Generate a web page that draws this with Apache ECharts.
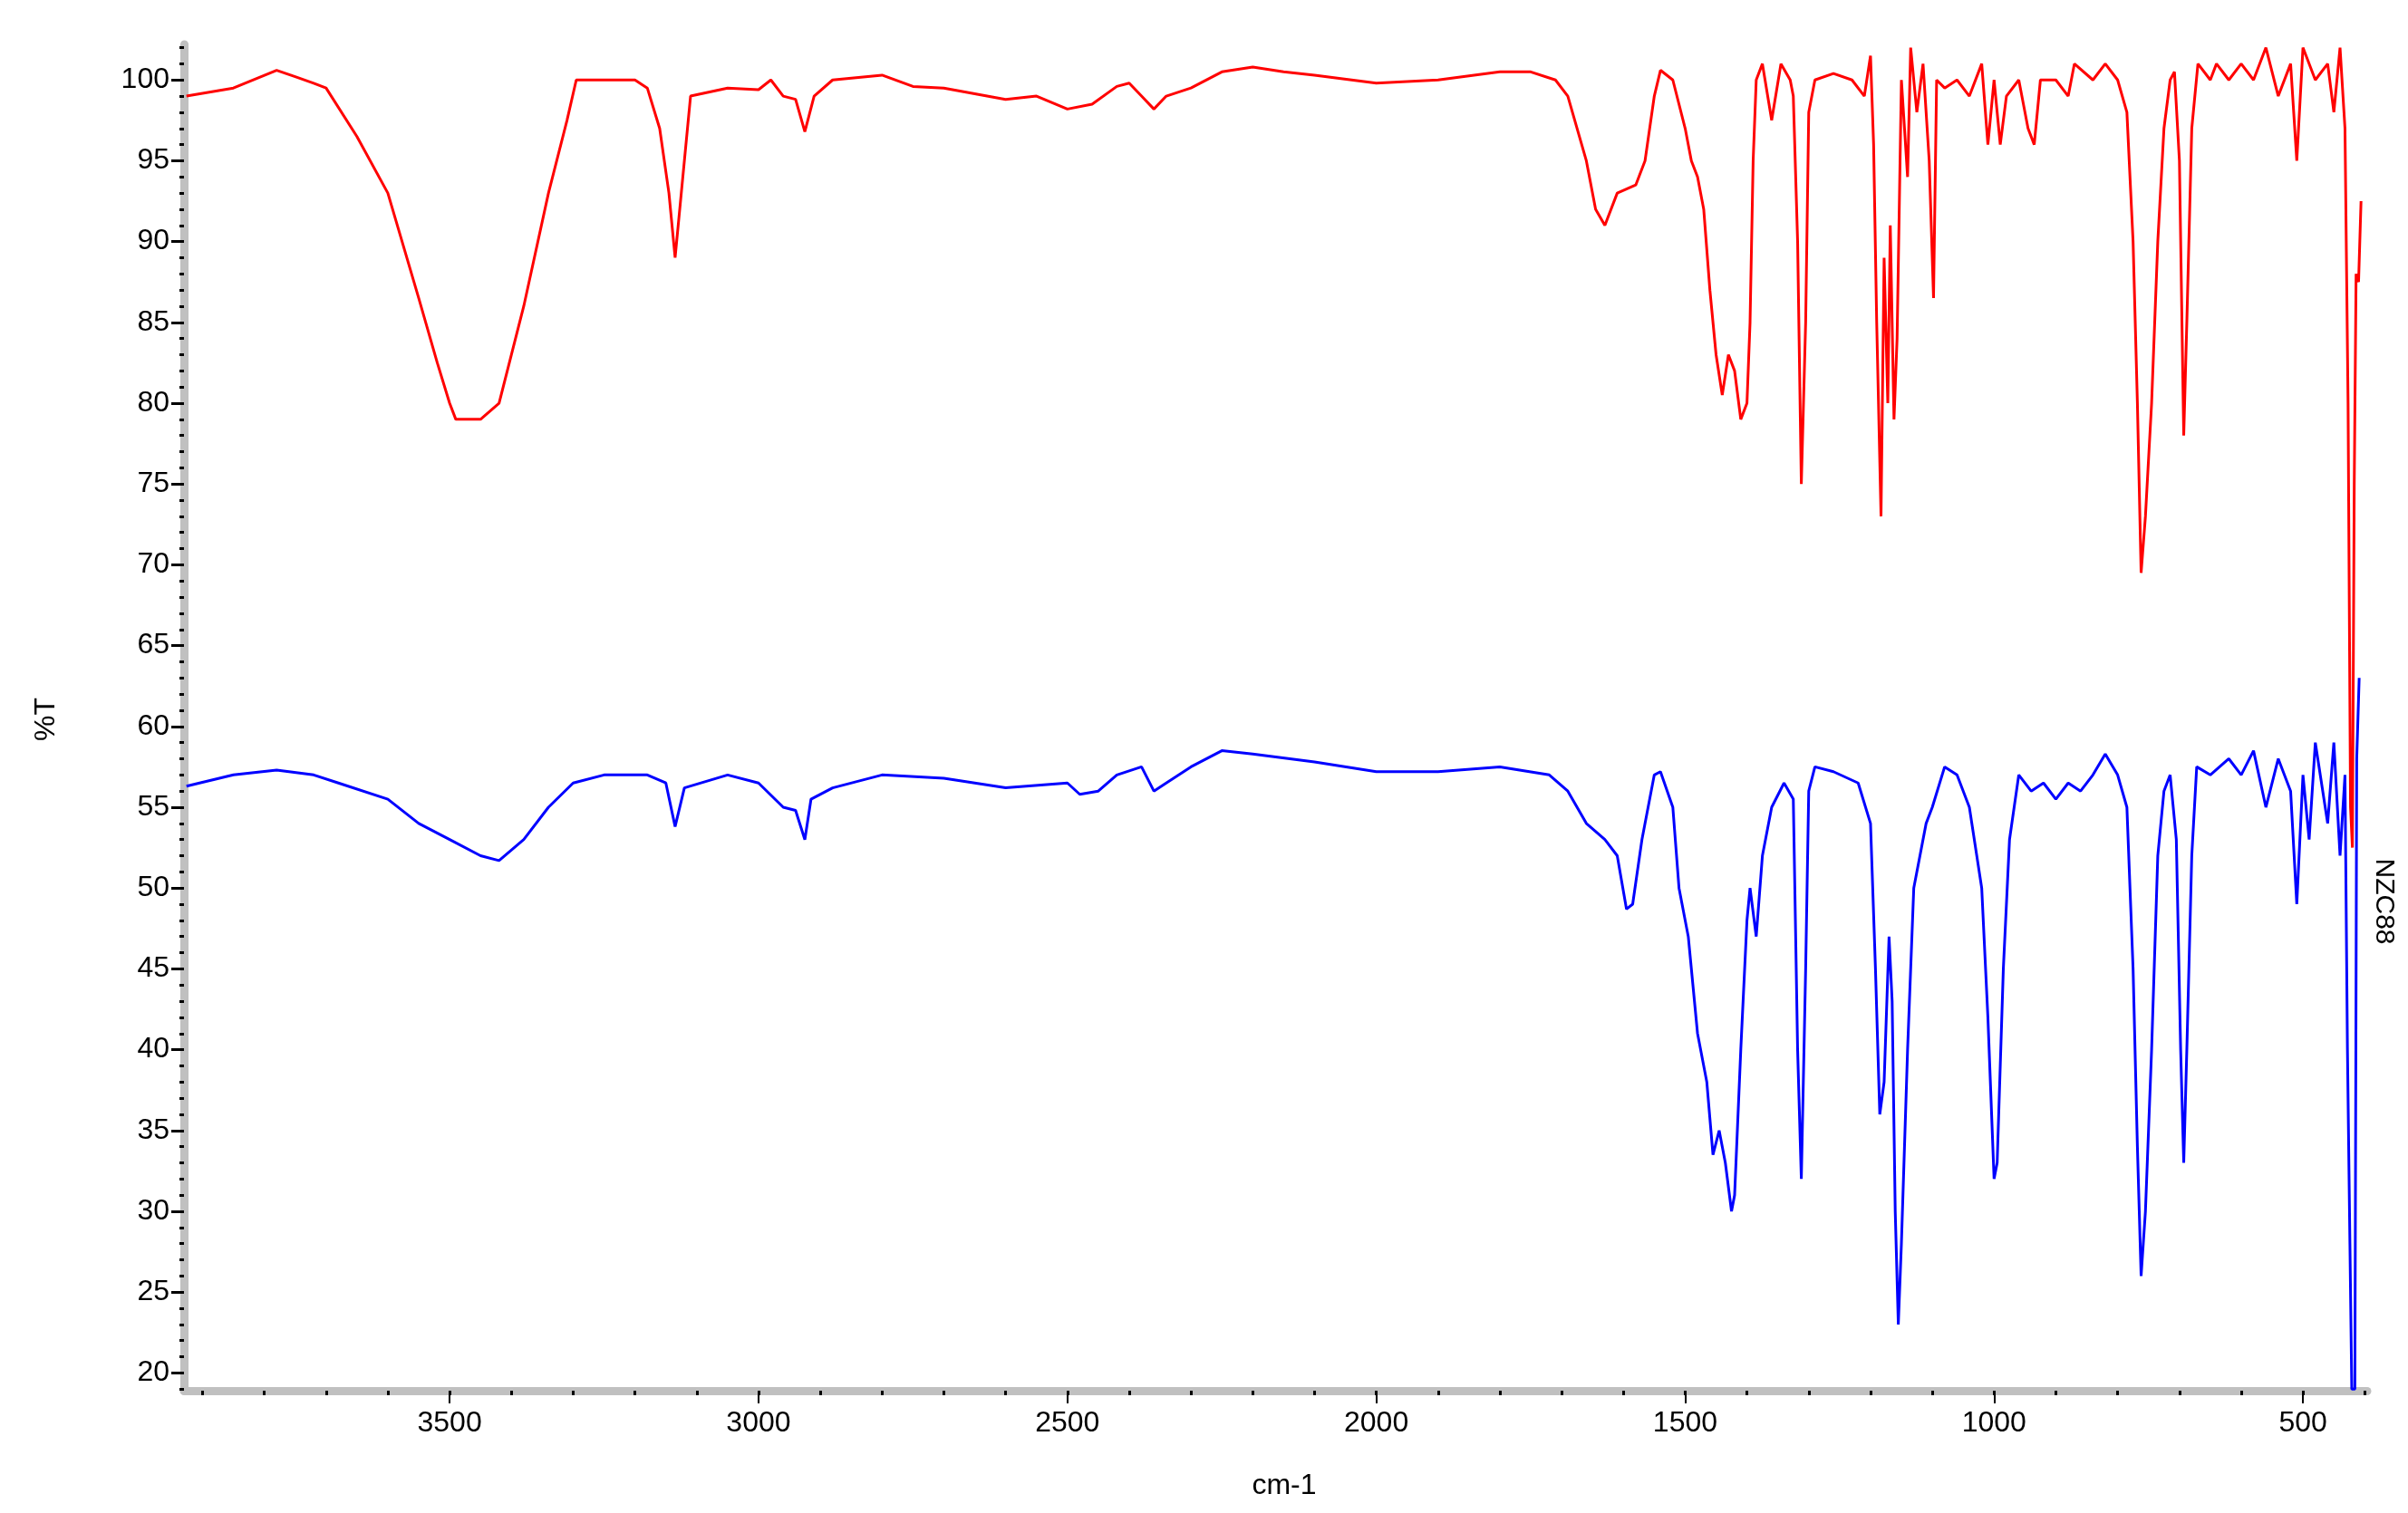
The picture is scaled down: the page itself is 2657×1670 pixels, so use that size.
<!DOCTYPE html>
<html><head><meta charset="utf-8">
<script src="https://cdn.jsdelivr.net/npm/echarts@6/dist/echarts.min.js"></script>
<style>html,body{margin:0;padding:0;background:#fff}#c{width:2657px;height:1670px}</style>
</head><body><div id="c"></div>
<script>
const redSeries = [[3926,99],[3850,99.5],[3780,100.6],[3750,100.2],[3720,99.8],[3700,99.5],[3650,96.5],[3600,93],[3550,86.5],[3520,82.5],[3500,80],[3490,79],[3450,79],[3420,80],[3380,86],[3340,93],[3310,97.5],[3295,100],[3200,100],[3180,99.5],[3160,97],[3145,93],[3135,89],[3125,93],[3110,99],[3050,99.5],[3000,99.4],[2980,100],[2960,99],[2940,98.8],[2925,96.8],[2910,99],[2880,100],[2800,100.3],[2750,99.6],[2700,99.5],[2600,98.8],[2550,99],[2500,98.2],[2460,98.5],[2420,99.6],[2400,99.8],[2380,99],[2360,98.2],[2340,99],[2300,99.5],[2250,100.5],[2200,100.8],[2150,100.5],[2100,100.3],[2000,99.8],[1900,100],[1800,100.5],[1750,100.5],[1710,100],[1690,99],[1660,95],[1645,92],[1630,91],[1610,93],[1580,93.5],[1565,95],[1550,99],[1540,100.6],[1520,100],[1500,97],[1490,95],[1480,94],[1470,92],[1460,87],[1450,83],[1440,80.5],[1430,83],[1420,82],[1410,79],[1400,80],[1395,85],[1390,95],[1385,100],[1375,101],[1360,97.5],[1345,101],[1330,100],[1325,99],[1318,90],[1312,75],[1305,85],[1300,98],[1290,100],[1260,100.4],[1230,100],[1210,99],[1200,101.5],[1195,96],[1190,85],[1183,73],[1178,89],[1172,80],[1168,91],[1162,79],[1157,84],[1150,100],[1140,94],[1135,102],[1125,98],[1115,101],[1105,95],[1098,86.5],[1093,100],[1080,99.5],[1060,100],[1040,99],[1020,101],[1010,96],[1000,100],[990,96],[980,99],[960,100],[945,97],[935,96],[925,100],[900,100],[880,99],[870,101],[840,100],[820,101],[800,100],[785,98],[775,90],[768,80],[762,69.5],[755,73],[745,80],[735,90],[725,97],[715,100],[708,100.5],[700,95],[693,78],[688,85],[680,97],[670,101],[650,100],[640,101],[620,100],[600,101],[580,100],[560,102],[540,99],[520,101],[510,95],[500,102],[480,100],[460,101],[450,98],[440,102],[432,97],[427,80],[423,55],[420,52.5],[417,75],[414,88],[410,87.5],[406,92.5]];
const blueSeries = [[3926,56.3],[3850,57],[3780,57.3],[3720,57],[3680,56.5],[3600,55.5],[3550,54],[3500,53],[3450,52],[3420,51.7],[3380,53],[3340,55],[3300,56.5],[3250,57],[3180,57],[3150,56.5],[3135,53.8],[3120,56.2],[3050,57],[3000,56.5],[2960,55],[2940,54.8],[2925,53],[2915,55.5],[2880,56.2],[2800,57],[2700,56.8],[2600,56.2],[2500,56.5],[2480,55.8],[2450,56],[2420,57],[2380,57.5],[2360,56],[2340,56.5],[2300,57.5],[2250,58.5],[2200,58.3],[2100,57.8],[2000,57.2],[1900,57.2],[1800,57.5],[1720,57],[1690,56],[1660,54],[1630,53],[1610,52],[1595,48.7],[1585,49],[1570,53],[1550,57],[1540,57.2],[1520,55],[1510,50],[1495,47],[1480,41],[1465,38],[1455,33.5],[1445,35],[1435,33],[1425,30],[1420,31],[1410,40],[1400,48],[1395,50],[1385,47],[1375,52],[1360,55],[1340,56.5],[1325,55.5],[1318,40],[1312,32],[1305,45],[1300,56],[1290,57.5],[1260,57.2],[1220,56.5],[1200,54],[1192,45],[1185,36],[1178,38],[1170,47],[1165,43],[1160,30],[1155,23],[1150,28],[1140,40],[1130,50],[1110,54],[1100,55],[1080,57.5],[1060,57],[1040,55],[1020,50],[1010,42],[1000,32],[995,33],[985,45],[975,53],[960,57],[940,56],[920,56.5],[900,55.5],[880,56.5],[860,56],[840,57],[820,58.3],[800,57],[785,55],[775,45],[768,34],[762,26],[755,30],[745,40],[735,52],[725,56],[715,57],[705,53],[698,40],[693,33],[688,40],[680,52],[672,57.5],[650,57],[620,58],[600,57],[580,58.5],[560,55],[540,58],[520,56],[510,49],[500,57],[490,53],[480,59],[460,54],[450,59],[440,52],[432,57],[428,40],[424,28],[421,19],[416,19],[413,58],[409,63]];
const xLabels = [500,1000,1500,2000,2500,3000,3500];
const yLabels = [20,25,30,35,40,45,50,55,60,65,70,75,80,85,90,95,100];
const xMinor = []; for (let v=400; v<=3900; v+=100) xMinor.push(v);
const yMinor = []; for (let v=19; v<=102; v++) yMinor.push(v);

const XMIN=396, XMAX=3930, YMIN=18.9, YMAX=102.2;
const font = 'Liberation Sans, Arial, sans-serif';
const chart = echarts.init(document.getElementById('c'));
const baseX = {type:'value', inverse:true, min:XMIN, max:XMAX, position:'bottom', splitLine:{show:false}};
const baseY = {type:'value', min:YMIN, max:YMAX, position:'left', splitLine:{show:false}};
chart.setOption({
  animation:false,
  grid:{left:203, right:45, top:49, bottom:135},
  xAxis:[
    Object.assign({}, baseX, {axisLine:{lineStyle:{color:'#c0c0c0', width:9}},
      axisTick:{show:true, customValues:xLabels, length:14, lineStyle:{color:'#000', width:2}},
      axisLabel:{customValues:xLabels, formatter:v=>String(v), color:'#000', fontSize:32, fontFamily:font, margin:20}}),
    Object.assign({}, baseX, {axisLine:{show:false},
      axisTick:{show:true, customValues:xMinor, length:5, lineStyle:{color:'#000', width:3}},
      axisLabel:{show:false}})
  ],
  yAxis:[
    Object.assign({}, baseY, {axisLine:{lineStyle:{color:'#c0c0c0', width:9}},
      axisTick:{show:true, customValues:yLabels, length:14, lineStyle:{color:'#000', width:3}},
      axisLabel:{customValues:yLabels, formatter:v=>String(v), color:'#000', fontSize:32, fontFamily:font, margin:16}}),
    Object.assign({}, baseY, {axisLine:{show:false},
      axisTick:{show:true, customValues:yMinor, length:5, lineStyle:{color:'#000', width:3}},
      axisLabel:{show:false}})
  ],
  series:[
    {type:'line', data:redSeries, showSymbol:false, lineStyle:{color:'#ff0000', width:3}, z:3},
    {type:'line', data:blueSeries, showSymbol:false, lineStyle:{color:'#0000ff', width:3}, z:2}
  ],
  graphic:[
    {type:'text', x:51, y:794, rotation:Math.PI/2, style:{text:'%T', font:'32px '+font, fill:'#000', align:'center', verticalAlign:'middle'}},
    {type:'text', x:1417, y:1640, style:{text:'cm-1', font:'32px '+font, fill:'#000', align:'center', verticalAlign:'middle'}},
    {type:'text', x:2630, y:995, rotation:-Math.PI/2, style:{text:'NZC88', font:'30px '+font, fill:'#000', align:'center', verticalAlign:'middle'}}
  ]
});
</script></body></html>
